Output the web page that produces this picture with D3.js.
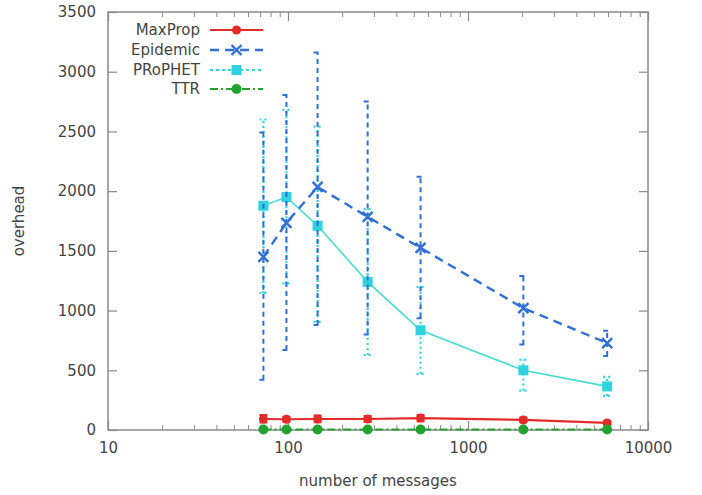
<!DOCTYPE html>
<html>
<head>
<meta charset="utf-8">
<script src="https://cdn.jsdelivr.net/npm/d3@7"></script>
<style>
  html, body { margin: 0; padding: 0; background: #fff; }
  svg { display: block; }
  text { font-family: "DejaVu Sans", sans-serif; fill: #444; }
</style>
</head>
<body>
<svg id="chart" width="702" height="495"></svg>
<script>
// Number of messages (x positions shared by all series)
const messages = [73, 98, 146, 277, 545, 2030, 5930];

// Overhead per protocol: mean, lower and upper error bound
const maxpropMean = [92, 90, 92, 92, 100, 84, 59];
const maxpropLow  = [62, 70, 64, 66, 74, 66, 44];
const maxpropHigh = [125, 110, 122, 118, 126, 104, 76];

const epidemicMean = [1450, 1735, 2035, 1785, 1525, 1020, 728];
const epidemicLow  = [420, 670, 880, 800, 935, 716, 620];
const epidemicHigh = [2490, 2805, 3160, 2750, 2120, 1290, 830];

const prophetMean = [1878, 1950, 1710, 1240, 835, 500, 365];
const prophetLow  = [1148, 1228, 905, 628, 470, 330, 285];
const prophetHigh = [2600, 2680, 2540, 1850, 1198, 590, 445];

const ttrMean = [4, 4, 4, 4, 4, 4, 4];
const ttrLow  = [0, 0, 0, 0, 0, 0, 0];
const ttrHigh = [12, 12, 12, 12, 12, 12, 12];

const xTicks = [10, 100, 1000, 10000];
const yTicks = [0, 500, 1000, 1500, 2000, 2500, 3000, 3500];

const seriesNames = ["MaxProp", "Epidemic", "PRoPHET", "TTR"];

const series = [
  { name: seriesNames[0], mean: maxpropMean, low: maxpropLow, high: maxpropHigh,
    color: "#e52a2a", dash: null, barDash: null, width: 2.2, barWidth: 2, marker: "circle" },
  { name: seriesNames[1], mean: epidemicMean, low: epidemicLow, high: epidemicHigh,
    color: "#2f6fd6", dash: "9,6", barDash: "5,4", width: 2.4, barWidth: 2, marker: "cross" },
  { name: seriesNames[2], mean: prophetMean, low: prophetLow, high: prophetHigh,
    color: "#2fd3e0", lineColor: "#45dcd0", dash: null, barDash: "2,3", width: 1.6, barWidth: 2.2, marker: "square" },
  { name: seriesNames[3], mean: ttrMean, low: ttrLow, high: ttrHigh,
    color: "#22a22e", dash: "8,3,2,3", barDash: null, width: 2, barWidth: 2, marker: "circleBig" }
];

const svg = d3.select("#chart");
const plot = { left: 108, right: 648, top: 12, bottom: 430 };

const x = d3.scaleLog().domain([10, 10000]).range([plot.left, plot.right]);
const y = d3.scaleLinear().domain([0, 3500]).range([plot.bottom, plot.top]);

const axisColor = "#8a8a8a";
const labelColor = "#4a4a4a";

// Minor log ticks (inward) on bottom and top borders
const minorTicks = [];
for (let d = 10; d < 10000; d *= 10) {
  for (let k = 2; k <= 9; k++) minorTicks.push(d * k);
}

const bottomAxis = d3.axisBottom(x).tickValues(xTicks).tickFormat(d3.format("d")).tickSizeInner(-9).tickSizeOuter(0).tickPadding(12);
const gx = svg.append("g").attr("transform", `translate(0,${plot.bottom})`).call(bottomAxis);
gx.select(".domain").remove();
gx.selectAll("line").attr("stroke", axisColor).attr("stroke-width", 1.2);
gx.selectAll("text").style("font-size", "15px").attr("fill", labelColor);

const gxMinor = svg.append("g").attr("transform", `translate(0,${plot.bottom})`)
  .call(d3.axisBottom(x).tickValues(minorTicks).tickFormat("").tickSizeInner(-5).tickSizeOuter(0));
gxMinor.select(".domain").remove();
gxMinor.selectAll("line").attr("stroke", axisColor).attr("stroke-width", 1);

const gxTop = svg.append("g").attr("transform", `translate(0,${plot.top})`)
  .call(d3.axisTop(x).tickValues(xTicks).tickFormat("").tickSizeInner(-9).tickSizeOuter(0));
gxTop.select(".domain").remove();
gxTop.selectAll("line").attr("stroke", axisColor).attr("stroke-width", 1.2);
const gxTopMinor = svg.append("g").attr("transform", `translate(0,${plot.top})`)
  .call(d3.axisTop(x).tickValues(minorTicks).tickFormat("").tickSizeInner(-5).tickSizeOuter(0));
gxTopMinor.select(".domain").remove();
gxTopMinor.selectAll("line").attr("stroke", axisColor).attr("stroke-width", 1);

const gy = svg.append("g").attr("transform", `translate(${plot.left},0)`)
  .call(d3.axisLeft(y).tickValues(yTicks).tickFormat(d3.format("d")).tickSizeInner(-9).tickSizeOuter(0).tickPadding(12));
gy.select(".domain").remove();
gy.selectAll("line").attr("stroke", axisColor).attr("stroke-width", 1.2);
gy.selectAll("text").style("font-size", "15px").attr("fill", labelColor);

const gyRight = svg.append("g").attr("transform", `translate(${plot.right},0)`)
  .call(d3.axisRight(y).tickValues(yTicks).tickFormat("").tickSizeInner(-9).tickSizeOuter(0));
gyRight.select(".domain").remove();
gyRight.selectAll("line").attr("stroke", axisColor).attr("stroke-width", 1.2);

// Plot border
svg.append("rect")
  .attr("x", plot.left).attr("y", plot.top)
  .attr("width", plot.right - plot.left).attr("height", plot.bottom - plot.top)
  .attr("fill", "none").attr("stroke", axisColor).attr("stroke-width", 1.5);

// Axis titles
svg.append("text")
  .attr("x", (plot.left + plot.right) / 2)
  .attr("y", 486)
  .attr("text-anchor", "middle")
  .style("font-size", "15px")
  .attr("fill", labelColor)
  .text("number of messages");

svg.append("text")
  .attr("transform", `translate(24,${(plot.top + plot.bottom) / 2}) rotate(-90)`)
  .attr("text-anchor", "middle")
  .style("font-size", "15px")
  .attr("fill", labelColor)
  .text("overhead");

function drawMarker(g, type, cx, cy, color) {
  if (type === "circle") {
    g.append("circle").attr("cx", cx).attr("cy", cy).attr("r", 4.5).attr("fill", color);
  } else if (type === "circleBig") {
    g.append("circle").attr("cx", cx).attr("cy", cy).attr("r", 5).attr("fill", color);
  } else if (type === "square") {
    g.append("rect").attr("x", cx - 5).attr("y", cy - 5).attr("width", 10).attr("height", 10).attr("fill", color);
  } else if (type === "cross") {
    const s = 5;
    g.append("path")
      .attr("d", `M${cx - s},${cy - s}L${cx + s},${cy + s}M${cx - s},${cy + s}L${cx + s},${cy - s}`)
      .attr("stroke", color).attr("stroke-width", 2.4).attr("fill", "none");
  }
}

const line = d3.line();
const capHalf = 4;

// Draw series in back-to-front order
[series[2], series[1], series[0], series[3]].forEach(s => {
  const g = svg.append("g");
  const pts = messages.map((m, i) => [x(m), y(s.mean[i])]);

  // error bars
  messages.forEach((m, i) => {
    const cx = x(m);
    const bar = g.append("path")
      .attr("d", `M${cx},${y(s.low[i])}L${cx},${y(s.high[i])}` +
                 `M${cx - capHalf},${y(s.low[i])}L${cx + capHalf},${y(s.low[i])}` +
                 `M${cx - capHalf},${y(s.high[i])}L${cx + capHalf},${y(s.high[i])}`)
      .attr("stroke", s.color).attr("stroke-width", s.barWidth).attr("fill", "none");
    if (s.barDash) bar.attr("stroke-dasharray", s.barDash);
  });

  const path = g.append("path")
    .attr("d", line(pts))
    .attr("fill", "none")
    .attr("stroke", s.lineColor || s.color)
    .attr("stroke-width", s.width);
  if (s.dash) path.attr("stroke-dasharray", s.dash);

  pts.forEach(p => drawMarker(g, s.marker, p[0], p[1], s.color));
});

// Legend
const legendRows = [30, 50, 70, 89];
series.forEach((s, i) => {
  const ly = legendRows[i];
  const g = svg.append("g");
  g.append("text")
    .attr("x", 200).attr("y", ly).attr("dy", "0.35em")
    .attr("text-anchor", "end")
    .style("font-size", "15px")
    .attr("fill", labelColor)
    .text(s.name);
  const seg = g.append("path")
    .attr("d", `M210,${ly}L263,${ly}`)
    .attr("stroke", s.color)
    .attr("stroke-width", s.name === "PRoPHET" ? 2 : s.width)
    .attr("fill", "none");
  const dash = s.name === "PRoPHET" ? "3,3" : s.dash;
  if (dash) seg.attr("stroke-dasharray", dash);
  drawMarker(g, s.marker, 236.5, ly, s.color);
});
</script>
</body>
</html>
